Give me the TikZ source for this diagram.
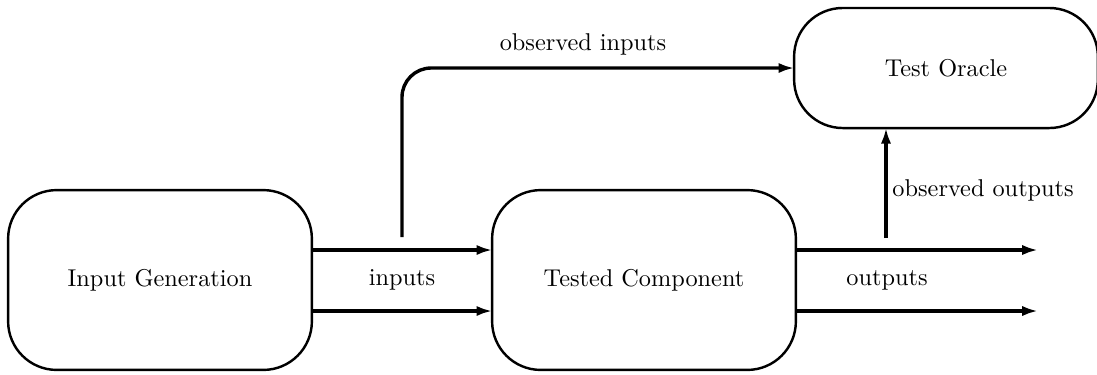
\documentclass[tikz,border=0pt]{standalone}
\usetikzlibrary{arrows.meta}
\begin{document}
\begin{tikzpicture}[x=0.4115pt,y=-0.4115pt,
  blockbox/.style={draw=black,line width=1pt,rounded corners=20pt,inner sep=0pt,
    minimum width=125pt,minimum height=74pt,font=\normalsize},
  oraclebox/.style={blockbox,minimum height=49.4pt},
  conn/.style={line width=1.4pt,-{Latex[length=6.5pt,width=4.2pt]}},
  intobox/.style={conn,shorten >=-0.6pt},
  lbl/.style={inner sep=0pt,font=\normalsize}]
\useasboundingbox (0,0) rectangle (1097,374);
\node[blockbox] (IG) at (160,280) {Input Generation};
\node[blockbox] (TC) at (644,280) {Tested Component};
\node[oraclebox] (TO) at (946,68) {Test Oracle};
% inputs
\draw[intobox] (IG.east |- {(0,250)}) -- (TC.west |- {(0,250)});
\draw[intobox] (IG.east |- {(0,311)}) -- (TC.west |- {(0,311)});
\node[lbl] (inl) at (402,280) {inputs};
% observed inputs
\coordinate (oi) at (402,237);
\draw[intobox,rounded corners=12pt] (oi) |- (TO.west);
\node[lbl] (oil) at (583,44) {observed inputs};
% outputs
\coordinate (o1) at (1038,250);
\coordinate (o2) at (1038,311);
\draw[conn] (TC.east |- o1) -- (o1);
\draw[conn] (TC.east |- o2) -- (o2);
\node[lbl] (outl) at (887,280) {outputs};
% observed outputs
\coordinate (oo) at (886,238);
\draw[intobox] (oo) -- (oo |- TO.south);
\node[lbl,anchor=west] (ool) at (892,190) {observed outputs};
\end{tikzpicture}
\end{document}
